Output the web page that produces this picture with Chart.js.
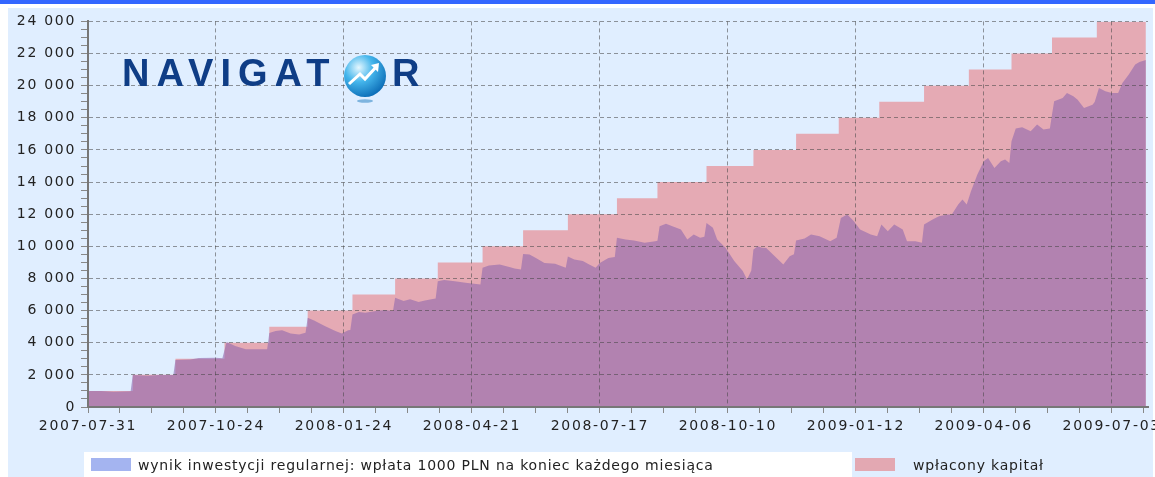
<!DOCTYPE html>
<html>
<head>
<meta charset="utf-8">
<script src="https://cdn.jsdelivr.net/npm/chart.js@4/dist/chart.umd.min.js"></script>
<style>
  html, body { margin: 0; padding: 0; background: #fff; }
  body { width: 1155px; height: 477px; position: relative; overflow: hidden; font-family: 'DejaVu Sans', sans-serif; }
  #topbar { position: absolute; left: 0; top: 0; width: 1155px; height: 4px; background: #3366ff; }
  #panel { position: absolute; left: 8px; top: 8px; width: 1145px; height: 469px; background: #e0eeff; }
  #chart { position: absolute; left: 8px; top: 8px; }
  #legendBg { position: absolute; left: 84px; top: 452px; width: 768px; height: 25px; background: #fff; }
  .swatch { position: absolute; width: 40px; height: 13px; }
  .ltext { position: absolute; font-size: 14px; line-height: 16px; color: #222; white-space: nowrap; letter-spacing: 0.8px; }
  .logo { position: absolute; top: 54px; font-family: 'Liberation Sans', Arial, sans-serif; font-weight: bold;
          font-size: 38px; line-height: 38px; color: #0f3d86; letter-spacing: 7px; }
  #globe { position: absolute; left: 343px; top: 54px; }
</style>
</head>
<body>
<div id="topbar"></div>
<div id="panel"></div>
<canvas id="chart" width="1147" height="469"></canvas>

<div class="logo" style="left:122px">NAVIGAT</div>
<svg id="globe" width="46" height="52" viewBox="0 0 46 52">
  <defs>
    <radialGradient id="g" cx="35%" cy="30%" r="75%">
      <stop offset="0" stop-color="#e4f7ff"/>
      <stop offset="0.45" stop-color="#45b6ec"/>
      <stop offset="1" stop-color="#0b6cb6"/>
    </radialGradient>
  </defs>
  <circle cx="22" cy="22" r="21" fill="url(#g)"/>
  <polyline points="6,30 17,20 22,25 34,12" fill="none" stroke="#fff" stroke-width="3"/>
  <polygon points="36,9 28,11 35,18" fill="#fff"/>
  <ellipse cx="22" cy="47" rx="8" ry="1.8" fill="#7db4df"/>
</svg>
<div class="logo" style="left:392px">R</div>

<div id="legendBg"></div>
<div class="swatch" style="left:91px; top:458px; background:#a4b4f0"></div>
<div class="ltext" style="left:138px; top:457px">wynik inwestycji regularnej: wpłata 1000 PLN na koniec każdego miesiąca</div>
<div class="swatch" style="left:855px; top:458px; background:#e3a8b2"></div>
<div class="ltext" style="left:913px; top:457px">wpłacony kapitał</div>

<script>
// trading-day index of each axis label
const dateLabels = ['2007-07-31', '2007-10-24', '2008-01-24', '2008-04-21', '2008-07-17',
                    '2008-10-10', '2009-01-12', '2009-04-06', '2009-07-03'];
const labelEvery = 60;

// paid-in capital: +1000 PLN at each month end (day index where the step starts)
const capDay = [0, 21, 41, 64, 85, 103, 124, 144, 164, 185, 204, 225, 248, 267, 290, 312,
                332, 352, 371, 392, 413, 433, 452, 473, 496];
const capValue = [1000, 2000, 3000, 4000, 5000, 6000, 7000, 8000, 9000, 10000, 11000, 12000,
                  13000, 14000, 15000, 16000, 17000, 18000, 19000, 20000, 21000, 22000, 23000,
                  24000, 24000];

// value of the regular investment
const invDay = [0, 6, 12, 16, 20, 21, 28, 33, 40, 41, 48, 52, 60, 63, 65, 69, 74, 82, 84, 85,
  88, 91, 95, 99, 102, 103, 106, 111, 116, 119, 122, 123, 124, 127, 130, 135, 139, 143, 144,
  148, 151, 155, 158, 161, 163, 164, 167, 172, 177, 181, 184, 185, 188, 193, 198, 200, 203,
  204, 207, 210, 214, 219, 224, 225, 228, 232, 235, 238, 240, 244, 247, 248, 252, 256, 261,
  266, 267, 268, 271, 274, 278, 281, 284, 287, 289, 290, 293, 295, 299, 303, 307, 309, 311,
  312, 314, 316, 318, 322, 326, 329, 331, 332, 336, 339, 343, 348, 351, 353, 356, 359, 362,
  367, 370, 372, 375, 378, 382, 384, 388, 391, 392, 396, 399, 403, 405, 408, 410, 412, 414,
  417, 420, 422, 425, 428, 430, 432, 433, 435, 438, 442, 445, 448, 451, 452, 453, 457, 459,
  462, 464, 467, 471, 472, 474, 477, 480, 483, 485, 488, 491, 493, 496];
const invValue = [1000, 990, 950, 960, 985, 1990, 1950, 1990, 1990, 2930, 2960, 3050, 3060,
  3030, 4040, 3790, 3600, 3590, 3600, 4600, 4730, 4770, 4580, 4520, 4620, 5550, 5390, 5040,
  4730, 4580, 4770, 4800, 5760, 5910, 5870, 5970, 6030, 5970, 6800, 6590, 6700, 6530, 6630,
  6700, 6750, 7830, 7900, 7830, 7730, 7670, 7630, 8660, 8810, 8870, 8700, 8620, 8560, 9530,
  9490, 9280, 8970, 8910, 8660, 9370, 9180, 9080, 8870, 8660, 8970, 9280, 9330, 10530, 10430,
  10370, 10220, 10320, 10350, 11250, 11400, 11250, 11050, 10430, 10740, 10530, 10600, 11460,
  11150, 10430, 9900, 9080, 8460, 7940, 8500, 9800, 10010, 9910, 9900, 9390, 8870, 9390, 9500,
  10370, 10490, 10740, 10630, 10320, 10530, 11770, 11980, 11570, 11050, 10740, 10630, 11360,
  10940, 11360, 11050, 10320, 10320, 10220, 11360, 11670, 11880, 11980, 11980, 12600, 12920,
  12600, 13430, 14470, 15300, 15500, 14880, 15300, 15400, 15190, 16540, 17330, 17410, 17160,
  17580, 17270, 17330, 18200, 19030, 19230, 19540, 19340, 19130, 18610, 18820, 18980, 19850,
  19650, 19540, 19540, 20170, 20690, 21310, 21470, 21600];

const invPoints = invDay.map((d, i) => ({ x: d, y: invValue[i] }));
const capPoints = capDay.map((d, i) => ({ x: d, y: capValue[i] }));

function fmt(v) {
    return String(v).replace(/\B(?=(\d{3})+(?!\d))/g, ' ');
}

const spacing = {
    id: 'spacing',
    beforeDraw(chart) { chart.ctx.letterSpacing = '1.7px'; }
};

const gridLine = 'rgba(70, 70, 70, 0.55)';

new Chart(document.getElementById('chart'), {
    type: 'line',
    data: {
        datasets: [{
            label: 'wynik inwestycji regularnej: wpłata 1000 PLN na koniec każdego miesiąca',
            data: invPoints,
            backgroundColor: 'rgba(144, 103, 173, 0.6)',
            borderWidth: 0,
            pointRadius: 0,
            fill: 'origin',
            tension: 0,
            order: 0
        }, {
            label: 'wpłacony kapitał',
            data: capPoints,
            backgroundColor: '#e5aab4',
            borderWidth: 0,
            pointRadius: 0,
            stepped: 'before',
            fill: 'origin',
            order: 1
        }]
    },
    options: {
        responsive: false,
        animation: false,
        devicePixelRatio: 1,
        layout: { padding: { top: 12, right: 7, left: 0, bottom: 0 } },
        plugins: { legend: { display: false }, tooltip: { enabled: false } },
        scales: {
            x: {
                type: 'linear',
                min: 0,
                max: 497,
                afterFit: (s) => { s.height = 70; },
                ticks: {
                    stepSize: 15,
                    autoSkip: false,
                    maxRotation: 0,
                    includeBounds: false,
                    padding: 5,
                    color: '#222',
                    font: { family: 'DejaVu Sans', size: 14 },
                    callback: (v) => (v % labelEvery === 0 ? dateLabels[v / labelEvery] : '')
                },
                grid: {
                    z: 1,
                    tickLength: 6,
                    tickColor: '#888',
                    color: (c) => (c.tick && c.tick.value % labelEvery === 0 && c.tick.value > 0 ? gridLine : 'transparent')
                },
                border: { color: '#777', width: 2, dash: [4, 3], z: 2 }
            },
            y: {
                min: 0,
                max: 24000,
                afterFit: (s) => { s.width = 80; },
                ticks: {
                    stepSize: 500,
                    autoSkip: false,
                    padding: 5,
                    color: '#222',
                    font: { family: 'DejaVu Sans', size: 14 },
                    callback: (v) => (v % 2000 === 0 ? fmt(v) : '')
                },
                grid: {
                    z: 1,
                    tickLength: 7,
                    tickColor: '#888',
                    color: (c) => (c.tick && c.tick.value % 2000 === 0 && c.tick.value > 0 ? gridLine : 'transparent')
                },
                border: { color: '#777', width: 2, dash: [4, 3], z: 2 }
            }
        }
    },
    plugins: [spacing]
});
</script>
</body>
</html>
